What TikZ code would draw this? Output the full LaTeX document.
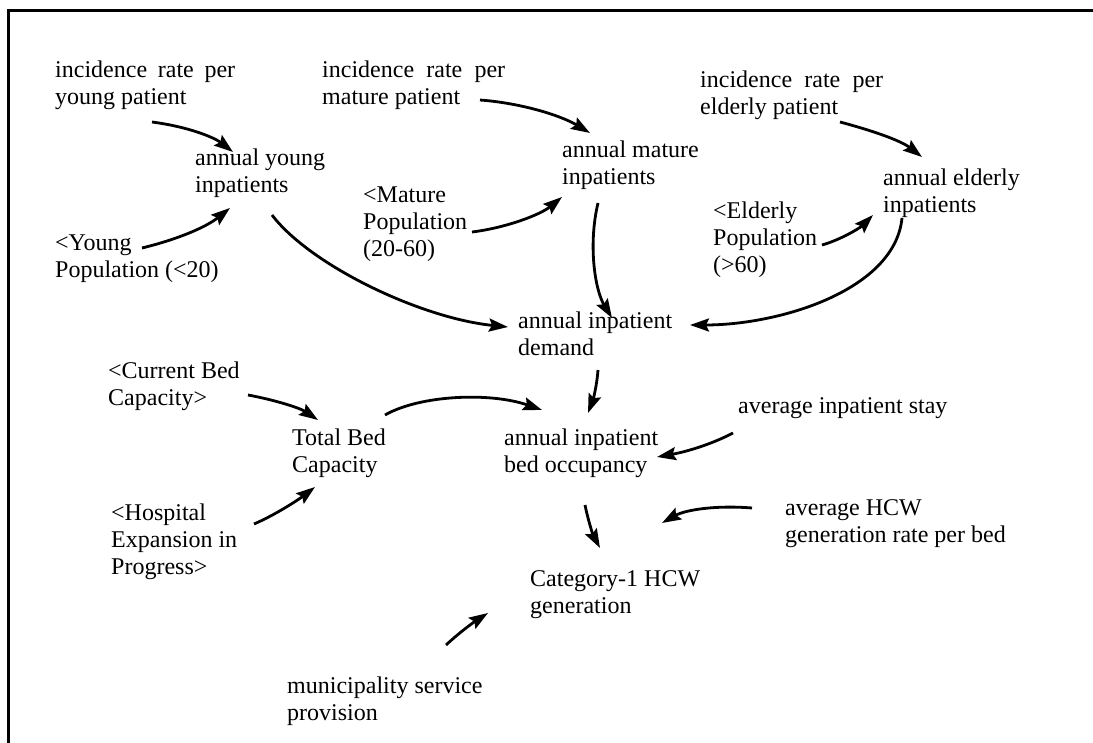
\documentclass[tikz,border=0pt]{standalone}
\usepackage{fontspec}
\setmainfont{Liberation Serif}
\usetikzlibrary{arrows.meta}
\begin{document}
\begin{tikzpicture}[x=1pt,y=-1pt,
  var/.style={anchor=north west,inner sep=0pt,align=left,font=\fontsize{24}{27}\selectfont},
  link/.style={line width=2.8pt,-{Stealth[length=19pt,width=13pt,inset=3pt]}},
  frame/.style={line width=3pt}]
\useasboundingbox (0,0) rectangle (1093,743);

% frame (top and left edges)
\draw[frame] (8,743) -- (8,11) -- (1093,11);

% variables
\node[var] (iry) at (55,61) {\makebox[180pt][s]{incidence rate per}\\young patient};
\node[var] (irm) at (322,61) {\makebox[183pt][s]{incidence rate per}\\mature patient};
\node[var] (ire) at (700,71) {\makebox[183pt][s]{incidence rate per}\\elderly patient};
\node[var] (ay) at (195,149) {annual young\\inpatients};
\node[var] (am) at (562,141) {annual mature\\inpatients};
\node[var] (ae) at (883,169) {annual elderly\\inpatients};
\node[var] (yp) at (55,235) {<Young\\Population (<20)};
\node[var] (mp) at (363,187) {<Mature\\Population\\(20-60)};
\node[var] (ep) at (713,202) {<Elderly\\Population\\(>60)};
\node[var] (dem) at (518,312) {annual inpatient\\demand};
\node[var] (cb) at (108,362) {<Current Bed\\Capacity>};
\node[var] (tb) at (292,429) {Total Bed\\Capacity};
\node[var] (occ) at (504,429) {annual inpatient\\bed occupancy};
\node[var] (stay) at (738,397) {average inpatient stay};
\node[var] (hos) at (111,504) {<Hospital\\Expansion in\\Progress>};
\node[var] (hcw) at (785,499) {average HCW\\generation rate per bed};
\node[var] (cat) at (530,570) {Category-1 HCW\\generation};
\node[var] (mun) at (287,677) {municipality service\\provision};

% causal links
\draw[link] ([shift={(97,61)}]iry.north west) .. controls (190,127) and (215,138) .. ([shift={(38,3)}]ay.north west);
\draw[link] ([shift={(87,13)}]yp.north west) .. controls (175,240) and (205,228) .. ([shift={(35,59)}]ay.north west);
\draw[link] ([shift={(77,66)}]ay.north west) .. controls (310,265) and (420,318) .. ([shift={(-10,15)}]dem.north west);
\draw[link] ([shift={(158,39)}]irm.north west) .. controls (520,103) and (560,115) .. ([shift={(28,-8)}]am.north west);
\draw[link] ([shift={(109,45)}]mp.north west) .. controls (505,228) and (540,215) .. ([shift={(0,56)}]am.north west);
\draw[link] ([shift={(36,62)}]am.north west) .. controls (588,245) and (595,290) .. ([shift={(94,6)}]dem.north west);
\draw[link] ([shift={(140,51)}]ire.north west) .. controls (870,130) and (900,140) .. ([shift={(39,-12)}]ae.north west);
\draw[link] ([shift={(109,43)}]ep.north west) .. controls (840,240) and (860,228) .. ([shift={(-10,46)}]ae.north west);
\draw[link] ([shift={(19,49)}]ae.north west) .. controls (895,290) and (780,325) .. ([shift={(172,13)}]dem.north west);
\draw[link] ([shift={(80,58)}]dem.north west) .. controls (597,385) and (593,400) .. ([shift={(84,-16)}]occ.north west);
\draw[link] ([shift={(140,33)}]cb.north west) .. controls (275,400) and (300,408) .. ([shift={(26,-9)}]tb.north west);
\draw[link] ([shift={(93,-14)}]tb.north west) .. controls (420,395) and (490,392) .. ([shift={(38,-19)}]occ.north west);
\draw[link] ([shift={(143,20)}]hos.north west) .. controls (275,515) and (298,500) .. ([shift={(23,58)}]tb.north west);
\draw[link] ([shift={(-5,36)}]stay.north west) .. controls (710,445) and (685,452) .. ([shift={(153,28)}]occ.north west);
\draw[link] ([shift={(81,76)}]occ.north west) .. controls (588,520) and (593,535) .. ([shift={(70,-22)}]cat.north west);
\draw[link] ([shift={(-33,9)}]hcw.north west) .. controls (715,505) and (685,510) .. ([shift={(132,-47)}]cat.north west);
\draw[link] ([shift={(159,-32)}]mun.north west) .. controls (460,632) and (474,622) .. ([shift={(-42,43)}]cat.north west);
\end{tikzpicture}
\end{document}
